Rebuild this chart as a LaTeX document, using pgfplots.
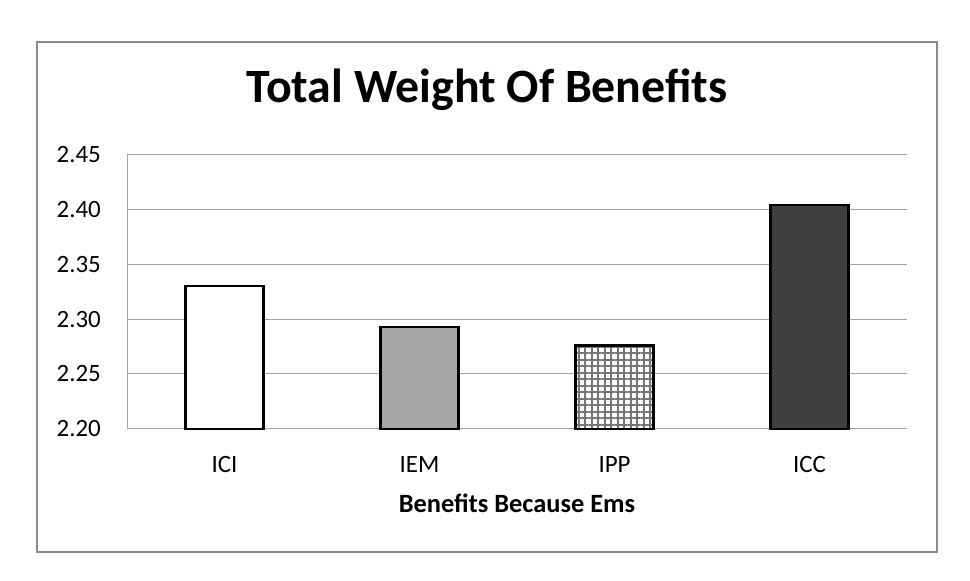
\documentclass[border=0pt]{standalone}
\usepackage{fontspec}
\setmainfont{Carlito}
\usepackage{pgfplots}
\pgfplotsset{compat=1.18}
\usetikzlibrary{patterns.meta}

\definecolor{gridgray}{RGB}{160,160,160}
\definecolor{framegray}{RGB}{140,140,140}
\definecolor{midfill}{RGB}{166,166,166}
\definecolor{darkfill}{RGB}{64,64,64}
\definecolor{plaid}{RGB}{118,118,118}

\newcommand\tickfont{\fontsize{25}{25}\selectfont}

\begin{document}
\begin{tikzpicture}
\useasboundingbox (0,0) rectangle (970bp,581bp);
% chart frame
\draw[framegray, line width=1.2bp] (37bp,29bp) rectangle (937bp,539bp);

\begin{axis}[
  at={(127bp,152.3bp)}, anchor=south west,
  scale only axis,
  width=780bp, height=274bp,
  xmin=-0.5, xmax=3.5,
  ymin=2.20, ymax=2.45,
  ytick={2.20,2.25,2.30,2.35,2.40,2.45},
  yticklabels={2.20,2.25,2.30,2.35,2.40,2.45},
  xtick={0,1,2,3},
  xticklabels={ICI,IEM,IPP,ICC},
  major tick length=0pt,
  axis x line*=bottom, axis y line*=left,
  axis line style={gridgray, line width=1bp, -},
  ymajorgrids,
  major grid style={gridgray, line width=1bp},
  tick label style={font=\tickfont, inner sep=0pt},
  yticklabel style={anchor=east, xshift=-26bp},
  xticklabel style={anchor=base, yshift=-44bp},
  xlabel={Benefits Because Ems},
  xlabel style={at={(axis description cs:0.5,0)}, anchor=base, yshift=-83.3bp, inner sep=0pt,
    font=\bfseries\fontsize{26.5}{26.5}\selectfont},
  title={Total Weight Of Benefits},
  title style={at={(axis description cs:0.4615,1)}, anchor=base, yshift=46.7bp, inner sep=0pt,
    font=\bfseries\fontsize{48}{48}\selectfont},
  ybar, bar width=78bp, bar shift=0pt,
  clip=false,
]
\addplot[draw=black, line width=2.2bp, fill=white] coordinates {(0,2.330)};
\addplot[draw=black, line width=2.2bp, fill=midfill] coordinates {(1,2.293)};
\addplot[draw=black, line width=2.2bp, fill=white,
  pattern={Lines[angle=0, distance=6.5bp, line width=2bp]}, pattern color=plaid,
  postaction={pattern={Lines[angle=90, distance=6.5bp, line width=2bp]}, pattern color=plaid}]
  coordinates {(2,2.276)};
\addplot[draw=black, line width=2.2bp, fill=darkfill] coordinates {(3,2.404)};
\end{axis}
\end{tikzpicture}
\end{document}
